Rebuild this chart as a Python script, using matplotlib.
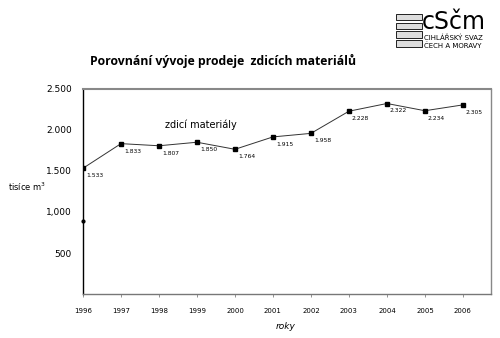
import matplotlib.pyplot as plt
from matplotlib.patches import Rectangle

years = [1996, 1997, 1998, 1999, 2000, 2001, 2002, 2003, 2004, 2005, 2006]
values = [1533, 1833, 1807, 1850, 1764, 1915, 1958, 2228, 2322, 2234, 2305]
yticks = [500, 1000, 1500, 2000, 2500]
ytick_labels = ['500', '1,000', '1.500', '2.000', '2.500']

def fmt(v):
    return '{:,}'.format(v).replace(',', '.')

fig = plt.figure(figsize=(5, 3.38), dpi=100)
ax = fig.add_axes([0.166, 0.130, 0.816, 0.607])

ax.plot(years, values, color='#333333', lw=0.7, marker='s', ms=3,
        mfc='black', mec='black')
# stray dot on the axis from the scan
ax.plot([1996], [890], 'o', color='black', ms=2, clip_on=False)

for x, v in zip(years, values):
    ax.text(x + 0.08, v - 60, fmt(v), fontsize=4.3, ha='left', va='top')

ax.text(1999.1, 2000, 'zdicí materiály', fontsize=7, ha='center', va='bottom')

ax.set_xlim(1996, 2006.74)
ax.set_ylim(0, 2500)
ax.set_yticks(yticks)
ax.set_yticklabels(ytick_labels, fontsize=6.5)
ax.set_xticks(years)
ax.set_xticklabels([str(y) for y in years], fontsize=5)
ax.tick_params(axis='y', length=0, pad=8)
ax.tick_params(axis='x', length=2, width=0.5, pad=8, color='#666666')

ax.spines['left'].set_color('black')
ax.spines['left'].set_linewidth(1.0)
ax.spines['bottom'].set_color('#777777')
ax.spines['bottom'].set_linewidth(1.0)
ax.spines['top'].set_color('#888888')
ax.spines['top'].set_linewidth(1.5)
ax.spines['right'].set_color('#888888')
ax.spines['right'].set_linewidth(1.0)

fig.text(0.447, 0.82, 'Porovnání vývoje prodeje  zdicích materiálů',
         fontsize=8.8, fontweight='bold', ha='center', va='center',
         family='Open Sans')
fig.text(0.016, 0.447, 'tisíce m$^3$', fontsize=6, ha='left', va='center')
fig.text(0.572, 0.035, 'roky', fontsize=6.5, ha='center', va='center',
         style='italic')

# logo, top right
for i in range(4):
    fig.patches.append(Rectangle((0.792, 0.94 - i * 0.026), 0.052, 0.019,
                                 transform=fig.transFigure, fill=True,
                                 lw=0.6, ec='black', fc='#dddddd'))
fig.text(0.843, 0.935, 'cSčm', fontsize=17, ha='left', va='center',
         family='DejaVu Sans')
fig.text(0.848, 0.887, 'CIHLÁŘSKÝ SVAZ', fontsize=5, ha='left', va='center')
fig.text(0.848, 0.866, 'ČECH A MORAVY', fontsize=5, ha='left', va='center')

fig.savefig('out.png', dpi=100)
